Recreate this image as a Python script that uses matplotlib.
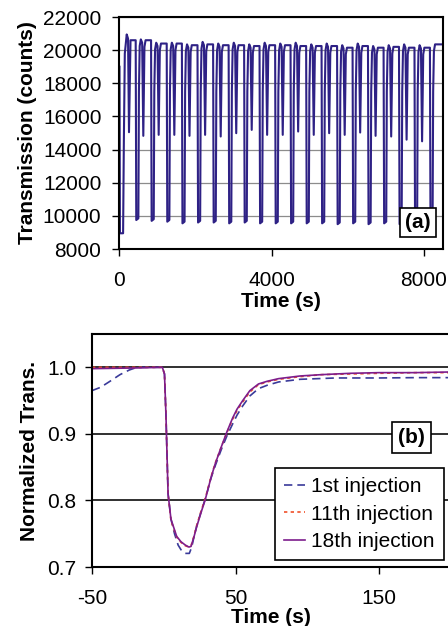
import matplotlib
matplotlib.use("Agg")
from matplotlib import pyplot as plt

plt.rcParams["font.family"] = ["Liberation Sans", "DejaVu Sans"]
plt.rcParams["font.size"] = 15
plt.rcParams["axes.unicode_minus"] = False

# (a) raw transmission trace
start_t = [0, 12, 95, 115, 140, 190, 225, 250, 290]
start_v = [19000, 8950, 8950, 14500, 19800, 20950, 20700, 15050, 20600]

drop_t = [426, 830, 1241, 1640, 2050, 2460, 2868, 3275, 3680, 4090,
          4495, 4905, 5310, 5718, 6125, 6530, 6940, 7345, 7752, 8158]
deep_min = [9750, 9700, 9650, 9550, 9600, 9600, 9550, 9600, 9550, 9550,
            9550, 9550, 9550, 9500, 9550, 9500, 9550, 9500, 9500, 9500]
peak_v = [20650, 20450, 20450, 20350, 20500, 20400, 20450, 20350, 20450, 20400,
          20450, 20350, 20400, 20300, 20400, 20250, 20300, 20350, 20300, 20350]
shallow_min = [14830, 14890, 14890, 14830, 14890, 14790, 14990, 15190, 14890, 14890,
               15090, 14890, 14990, 14890, 15030, 14830, 14790, 14600, 14500]
plateau_v = [20600, 20400, 20400, 20300, 20350, 20300, 20300, 20250, 20300, 20300,
             20250, 20250, 20250, 20150, 20250, 20150, 20200, 20150, 20150, 20350]
end_t = 8500

# (b) normalized transmission around one injection
t_1st = [-50, -44, -37.5, -30.5, -24, -20, -15, -1, 0.5, 1.5,
         3, 5, 7.5, 10, 12, 14.8, 17.8, 19.5, 21, 23,
         26, 29, 33, 36, 40, 44, 48, 51, 55, 60,
         66, 72, 80, 95, 120, 150, 175, 200]
v_1st = [0.965, 0.970, 0.979, 0.989, 0.996, 0.999, 1.0, 1.0, 0.99, 0.93,
         0.81, 0.772, 0.750, 0.733, 0.726, 0.7205, 0.7205, 0.730, 0.745, 0.762,
         0.783, 0.803, 0.834, 0.853, 0.876, 0.897, 0.915, 0.928, 0.942, 0.957,
         0.968, 0.973, 0.978, 0.982, 0.984, 0.984, 0.9845, 0.9845]
t_late = [-50, -20, -1, 0.5, 1.5, 3, 5, 9, 12, 15,
          17.5, 19, 21, 23, 26, 29, 33, 36, 40, 44,
          48, 51, 55, 60, 66, 72, 80, 95, 110, 130,
          150, 175, 200]
v_11th = [1.0, 1.0, 1.0, 0.99, 0.93, 0.81, 0.770, 0.745, 0.737, 0.732,
          0.730, 0.732, 0.746, 0.763, 0.784, 0.804, 0.836, 0.857, 0.880, 0.902,
          0.922, 0.935, 0.948, 0.963, 0.974, 0.978, 0.982, 0.986, 0.989, 0.990,
          0.991, 0.992, 0.992]
v_18th = [0.998, 0.999, 1.0, 0.99, 0.93, 0.81, 0.772, 0.746, 0.738, 0.733,
          0.730, 0.731, 0.745, 0.761, 0.782, 0.802, 0.835, 0.856, 0.880, 0.903,
          0.924, 0.937, 0.950, 0.965, 0.975, 0.979, 0.983, 0.987, 0.989, 0.991,
          0.992, 0.992, 0.993]


def build_trace():
    t = list(start_t)
    v = list(start_v)
    for i, t0 in enumerate(drop_t):
        prev = v[-1]
        t += [t0, t0 + 15, t0 + 70, t0 + 85, t0 + 105, t0 + 135]
        v += [prev, deep_min[i], deep_min[i] + 100, 17500, peak_v[i] - 400, peak_v[i]]
        if i < len(shallow_min):
            t += [t0 + 170, t0 + 200, t0 + 230, t0 + 260]
            v += [peak_v[i] - 200, shallow_min[i], plateau_v[i] - 400, plateau_v[i]]
        else:
            t += [t0 + 160]
            v += [plateau_v[i]]
    t.append(end_t)
    v.append(v[-1])
    return t, v


def style_axes(ax, grid_color, grid_lw, ypad):
    ax.grid(axis="y", color=grid_color, linewidth=grid_lw)
    ax.set_axisbelow(True)
    for side in ["left", "bottom", "top", "right"]:
        ax.spines[side].set_linewidth(1.5)
    ax.tick_params(axis="y", direction="out", length=5, width=1, pad=ypad)
    ax.tick_params(axis="x", direction="out", length=5, width=1, pad=11)


fig = plt.figure(figsize=(4.48, 6.26), dpi=100)

ax1 = fig.add_axes([0.2667, 0.6022, 0.722, 0.3706])
t, v = build_trace()
ax1.plot(t, v, color="#2e2185", linewidth=1.5)
ax1.set_xlim(0, 8500)
ax1.set_ylim(8000, 22000)
ax1.set_xticks([0, 4000, 8000])
ax1.set_yticks(range(8000, 22001, 2000))
style_axes(ax1, "#8c8c8c", 0.9, 8)
ax1.set_xlabel("Time (s)", fontweight="bold", labelpad=1)
ax1.set_ylabel("Transmission (counts)", fontweight="bold", labelpad=4)
ax1.text(0.923, 0.115, "(a)", transform=ax1.transAxes, ha="center", va="center",
         fontweight="bold",
         bbox=dict(boxstyle="square,pad=0.25", facecolor="white", edgecolor="black", linewidth=1.2))

ax2 = fig.add_axes([0.2054, 0.0942, 0.8008, 0.3722])
ax2.plot(t_1st, v_1st, color="#3a3a9a", linewidth=1.2, dashes=(5, 3), label="1st injection")
ax2.plot(t_late, v_11th, color="#f0502a", linewidth=1.2, dashes=(2, 2), label="11th injection")
ax2.plot(t_late, v_18th, color="#7d1d8c", linewidth=1.2, label="18th injection")
ax2.set_xlim(-50, 200)
ax2.set_ylim(0.7, 1.05)
ax2.set_xticks([-50, 50, 150])
ax2.set_yticks([0.7, 0.8, 0.9, 1.0])
ax2.set_yticklabels(["0.7", "0.8", "0.9", "1.0"])
style_axes(ax2, "#303030", 1.4, 6)
ax2.set_xlabel("Time (s)", fontweight="bold", labelpad=0)
ax2.set_ylabel("Normalized Trans.", fontweight="bold", labelpad=6)
ax2.text(0.89, 0.555, "(b)", transform=ax2.transAxes, ha="center", va="center",
         fontweight="bold",
         bbox=dict(boxstyle="square,pad=0.3", facecolor="white", edgecolor="black", linewidth=1.2))
leg = ax2.legend(loc="upper left", bbox_to_anchor=(0.51, 0.425), fancybox=False,
                 framealpha=1, edgecolor="black", handlelength=1.0, handletextpad=0.3,
                 borderpad=0.45, labelspacing=0.4, borderaxespad=0)
leg.get_frame().set_linewidth(1.2)

fig.savefig("out.png", dpi=100)
